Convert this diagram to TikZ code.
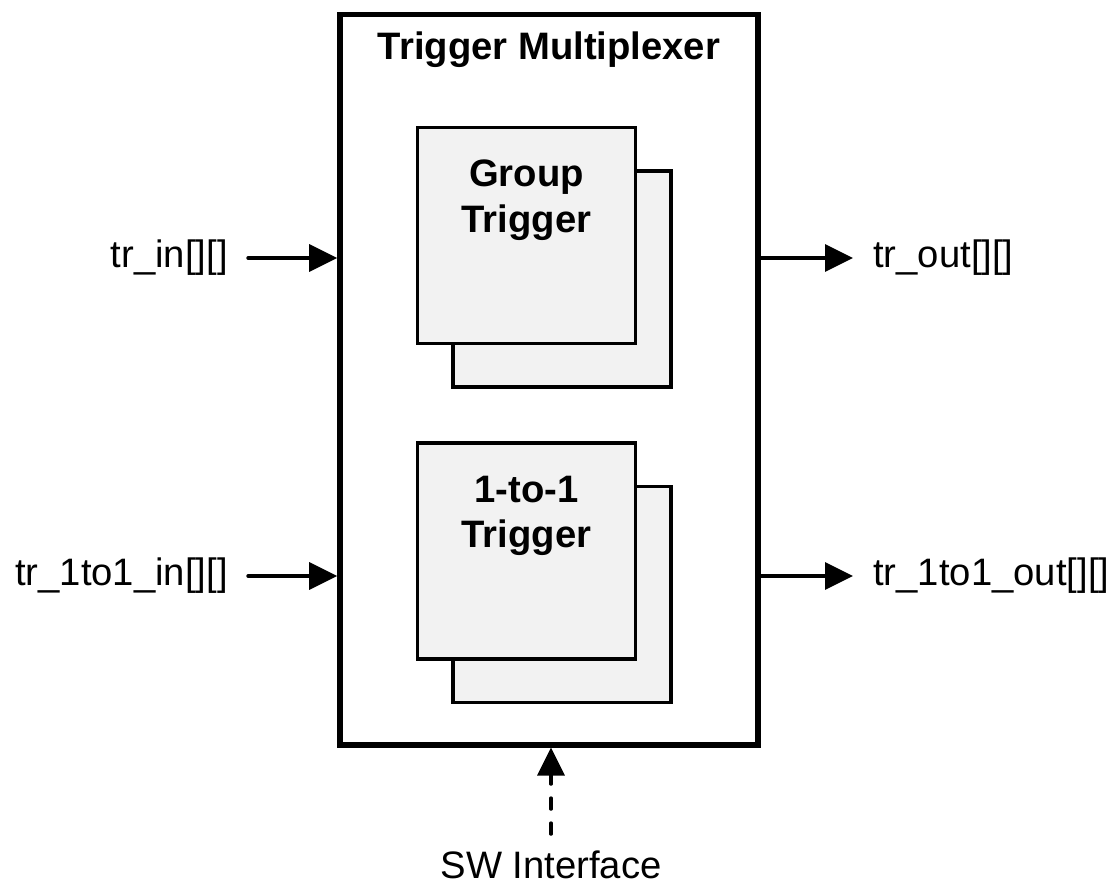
\documentclass[tikz,border=0pt]{standalone}
\usepackage{fontspec}
\setmainfont{Liberation Sans}
\usetikzlibrary{positioning, arrows.meta}

\begin{document}
\begin{tikzpicture}
    [
        x=1mm, y=1mm,
        mux_box/.style={draw=black, line width=1.4mm, minimum width=104.5mm, minimum height=182.6mm, inner sep=0pt},
        trig_box/.style={draw=black, fill=black!5, line width=0.8mm, minimum width=54.5mm, minimum height=54mm, inner sep=0pt},
        title_text/.style={font=\bfseries\fontsize{27.2pt}{32.7pt}\selectfont, align=center, inner sep=0pt},
        sig_label/.style={font=\fontsize{27.2pt}{32.7pt}\selectfont, inner xsep=5mm, inner ysep=0pt},
        sig_arrow/.style={-{Triangle[length=7mm, width=6.75mm]}, line width=0.85mm, line cap=round},
    ]
        \useasboundingbox (0,0) rectangle (279.25,-222);
        \node[mux_box] (mux) at (137.25,-94.9) {};
        \node[title_text, below=5mm of mux.north] (muxtxt) {Trigger Multiplexer};
        % group trigger
        \node[trig_box] (groupb) at (140.5,-69.75) {};
        \node[trig_box, on grid, above left=10.85mm and 8.9mm of groupb] (groupf) {};
        \node[title_text, below=8.5mm of groupf.north] (grouptxt) {Group\\Trigger};
        % 1-to-1 trigger
        \node[trig_box, on grid, below=78.85mm of groupb] (oneb) {};
        \node[trig_box, on grid, above left=10.85mm and 8.9mm of oneb] (onef) {};
        \node[title_text, below=8.5mm of onef.north] (onetxt) {1-to-1\\Trigger};
        % signals
        \node[sig_label, anchor=east] (trin) at (62,-64.5) {tr\_in[][]};
        \node[sig_label, anchor=west] (trout) at (213.25,-64.5) {tr\_out[][]};
        \node[sig_label, anchor=east] (onein) at (62,-144) {tr\_1to1\_in[][]};
        \node[sig_label, anchor=west] (oneout) at (213.25,-144) {tr\_1to1\_out[][]};
        \node[sig_label, inner ysep=4mm, anchor=base] (sw) at (137.75,-219.5) {SW Interface};
        \draw[sig_arrow] (trin.east) -- (trin.east -| mux.west);
        \draw[sig_arrow] (trout.west -| mux.east) -- (trout.west);
        \draw[sig_arrow] (onein.east) -- (onein.east -| mux.west);
        \draw[sig_arrow] (oneout.west -| mux.east) -- (oneout.west);
        \draw[sig_arrow, dash pattern=on 2.75mm off 3.5mm] (sw.north) -- (sw.north |- mux.south);
\end{tikzpicture}
\end{document}
